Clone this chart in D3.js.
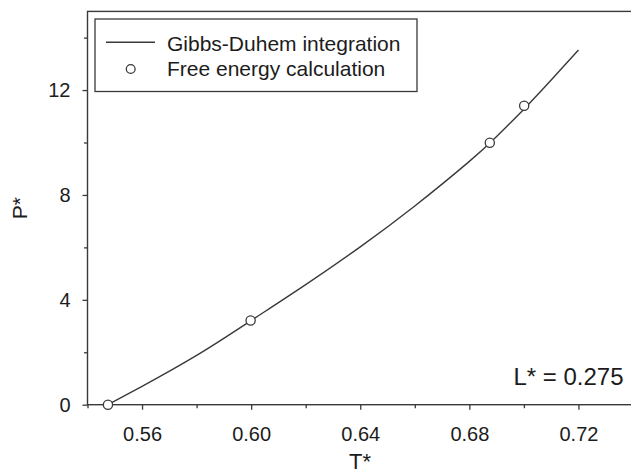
<!DOCTYPE html>
<html>
<head>
<meta charset="utf-8">
<script src="https://cdn.jsdelivr.net/npm/d3@7"></script>
<style>
body { margin: 0; background: #fff; }
svg text { font-family: "Liberation Sans", Arial, sans-serif; fill: #1c1c1c; }
</style>
</head>
<body>
<svg id="chart" width="631" height="473"></svg>
<script>
// Gibbs-Duhem curve
var curveT = [0.5475, 0.56, 0.58, 0.60, 0.62, 0.64, 0.66, 0.68, 0.69, 0.70, 0.71, 0.72],
    curveP = [0, 0.70, 1.88, 3.21, 4.58, 6.02, 7.58, 9.28, 10.23, 11.27, 12.38, 13.53];

// free energy points
var pointT = [0.5475, 0.5998, 0.6875, 0.7001],
    pointP = [0, 3.21, 9.99, 11.40];

var xTicks = [0.56, 0.60, 0.64, 0.68, 0.72],
    xMinor = [0.54, 0.58, 0.62, 0.66, 0.70],
    yTicks = [0, 4, 8, 12],
    yMinor = [2, 6, 10, 14];

var legendLabels = ['Gibbs-Duhem integration', 'Free energy calculation'];

var svg = d3.select('#chart'),
    ink = '#3a3a3a',
    x = d3.scaleLinear().domain([0.54, 0.74]).range([87.5, 633]),
    y = d3.scaleLinear().domain([0, 15]).range([404.7, 11.4]);

function drawAxes() {
    var bottom = 404.7, left = 87.5;

    // minor ticks first, no labels
    svg.append('g')
        .attr('transform', 'translate(0,' + bottom + ')')
        .call(d3.axisBottom(x).tickValues(xMinor).tickSizeInner(3.5).tickSizeOuter(0).tickFormat(''));
    svg.append('g')
        .attr('transform', 'translate(' + left + ',0)')
        .call(d3.axisLeft(y).tickValues(yMinor).tickSizeInner(3.5).tickSizeOuter(0).tickFormat(''));

    svg.append('g')
        .attr('class', 'xaxis')
        .attr('transform', 'translate(0,' + bottom + ')')
        .call(d3.axisBottom(x).tickValues(xTicks).tickSizeInner(5).tickSizeOuter(0)
            .tickPadding(17).tickFormat(d3.format('.2f')));
    svg.append('g')
        .attr('class', 'yaxis')
        .attr('transform', 'translate(' + left + ',0)')
        .call(d3.axisLeft(y).tickValues(yTicks).tickSizeInner(5).tickSizeOuter(0).tickPadding(12));

    svg.selectAll('.domain').remove();
    svg.selectAll('.tick line').attr('stroke', ink).attr('stroke-width', 1.3);
    svg.selectAll('.tick text').attr('font-size', 20).attr('fill', '#1c1c1c');

    // frame (right side falls outside the window)
    svg.append('rect')
        .attr('x', left).attr('y', y(15))
        .attr('width', x(0.74) - left).attr('height', bottom - y(15))
        .attr('fill', 'none').attr('stroke', ink).attr('stroke-width', 1.4);

    svg.append('text')
        .attr('transform', 'translate(27,' + ((bottom + y(15)) / 2) + ') rotate(-90)')
        .attr('text-anchor', 'middle')
        .attr('font-size', 21)
        .text('P*');
    svg.append('text')
        .attr('x', 360).attr('y', 469)
        .attr('text-anchor', 'middle')
        .attr('font-size', 22)
        .text('T*');
}

function drawData() {
    var curve = d3.range(curveT.length).map(function (i) { return [curveT[i], curveP[i]]; }),
        line = d3.line()
            .x(function (d) { return x(d[0]); })
            .y(function (d) { return y(d[1]); })
            .curve(d3.curveNatural);

    svg.append('path')
        .datum(curve)
        .attr('d', line)
        .attr('fill', 'none')
        .attr('stroke', ink)
        .attr('stroke-width', 1.4);

    svg.selectAll('circle.pt')
        .data(d3.range(pointT.length))
        .enter().append('circle')
        .attr('class', 'pt')
        .attr('cx', function (i) { return x(pointT[i]); })
        .attr('cy', function (i) { return y(pointP[i]); })
        .attr('r', 4.6)
        .attr('fill', '#fff')
        .attr('stroke', ink)
        .attr('stroke-width', 1.3);
}

function drawLegend() {
    var g = svg.append('g');
    g.append('rect')
        .attr('x', 95).attr('y', 19).attr('width', 322).attr('height', 72.5)
        .attr('fill', '#fff').attr('stroke', ink).attr('stroke-width', 1.3);
    g.append('line')
        .attr('x1', 106).attr('x2', 155).attr('y1', 42.3).attr('y2', 42.3)
        .attr('stroke', ink).attr('stroke-width', 1.4);
    g.append('circle')
        .attr('cx', 130.7).attr('cy', 69).attr('r', 4.4)
        .attr('fill', '#fff').attr('stroke', ink).attr('stroke-width', 1.3);
    g.selectAll('text.leg')
        .data(legendLabels)
        .enter().append('text')
        .attr('class', 'leg')
        .attr('x', 167)
        .attr('y', function (d, i) { return 50.5 + i * 25.5; })
        .attr('font-size', 21)
        .text(function (d) { return d; });

    svg.append('text')
        .attr('x', 623.5).attr('y', 385)
        .attr('text-anchor', 'end')
        .attr('font-size', 24)
        .text('L* = 0.275');
}

drawAxes();
drawData();
drawLegend();
</script>
</body>
</html>
